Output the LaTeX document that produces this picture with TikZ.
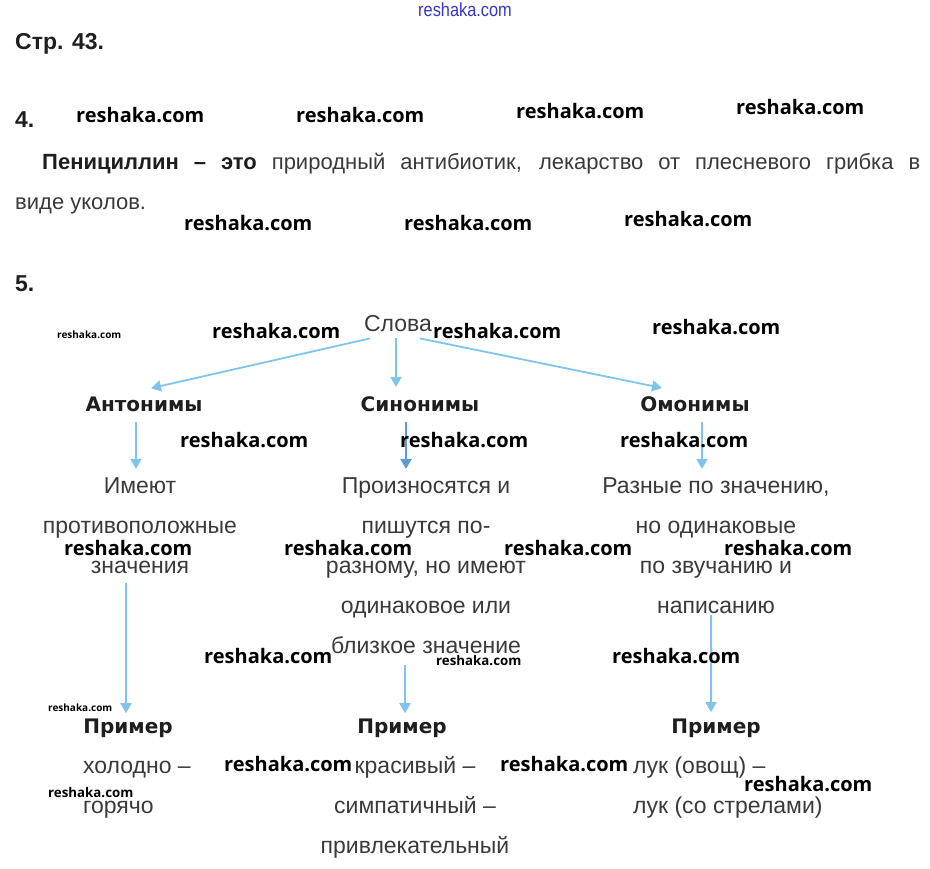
\documentclass[tikz,border=0pt]{standalone}
\usepackage{fontspec}
\setmainfont{Liberation Sans}
\newfontfamily\headfont{DejaVu Sans}
\newfontfamily\wmfont{Open Sans}
\usetikzlibrary{arrows.meta,positioning}

\definecolor{arrowblue}{HTML}{80C4EE}
\definecolor{deepblue}{HTML}{5C9BD8}
\definecolor{textgray}{HTML}{3A3A3A}
\definecolor{headgray}{HTML}{1E1E1E}
\definecolor{siteblue}{HTML}{3636C8}

\tikzset{
  body/.style={font=\fontsize{23}{40}\selectfont, text=textgray, inner sep=0pt, anchor=base},
  para/.style={font=\fontsize{22}{40}\selectfont, text=textgray, inner sep=0pt, anchor=base west},
  head/.style={font=\headfont\bfseries\fontsize{20}{24}\selectfont, text=headgray, inner sep=0pt, anchor=base},
  numtag/.style={font=\bfseries\fontsize{23}{28}\selectfont, text=headgray, inner sep=0pt, anchor=base west},
  wm/.style={inner sep=0pt, anchor=base west, text=black},
  link/.style={draw=arrowblue, line width=1.8pt, -{Triangle[width=11pt,length=10pt]}}
}

\begin{document}
\begin{tikzpicture}[x=1pt, y=-1pt]
  \fill[white] (0,0) rectangle (930,869);
  \useasboundingbox (0,0) rectangle (930,869);

  % heading and task 4
  \node[numtag] (page) at (15,50) {Стр. 43.};
  \node[numtag] (task4) at (15,128) {4.};
  \node[para] (line1) at (42,170)
    {\makebox[878pt][s]{\textbf{\color{headgray}Пенициллин – это} природный антибиотик, лекарство от плесневого грибка в}};
  \node[para] (line2) at (15,210) {виде уколов.};
  \node[numtag] (task5) at (15,292) {5.};

  % scheme (multi-line nodes sit on the baseline of their last line)
  \node[body] (slova) at (398,332) {Слова};

  \node[head] (ant) at (144,411) {Антонимы};
  \node[head] (sin) at (420,411) {Синонимы};
  \node[head] (om) at (695,411) {Омонимы};

  \node[body, align=center] (anttext) at (140,573) {Имеют\\противоположные\\значения};
  \node[body, align=center] (sintext) at (426,653)
    {Произносятся и\\пишутся по-\\разному, но имеют\\одинаковое или\\близкое значение};
  \node[body, align=center] (omtext) at (716,613)
    {Разные по значению,\\но одинаковые\\по звучанию и\\написанию};

  \node[head] (antpr) at (128,733) {Пример};
  \node[head] (sinpr) at (402,733) {Пример};
  \node[head] (ompr) at (716,733) {Пример};

  \node[body, align=left, anchor=base west] (antex) at (83,813) {холодно –\\горячо};
  \node[body, align=center] (sinex) at (415,853) {красивый –\\симпатичный –\\привлекательный};
  \node[body, align=left, anchor=base west] (omex) at (633,813) {лук (овощ) –\\лук (со стрелами)};

  \draw[link] ([xshift=-28pt,yshift=-6pt]slova.south) -- ([xshift=7pt,yshift=8pt]ant.north);
  \draw[link] ([xshift=-2pt,yshift=-6pt]slova.south) -- ([xshift=-24pt,yshift=9pt]sin.north);
  \draw[link] ([xshift=22pt,yshift=-6pt]slova.south) -- ([xshift=-33pt,yshift=8pt]om.north);

  \draw[link] ([xshift=-8pt,yshift=-11pt]ant.south) -- ([xshift=-4pt,yshift=8pt]anttext.north);
  \draw[link, draw=deepblue, line width=2.4pt] ([xshift=-14pt,yshift=-11pt]sin.south) -- ([xshift=-20pt,yshift=8pt]sintext.north);
  \draw[link] ([xshift=7pt,yshift=-11pt]om.south) -- ([xshift=-14pt,yshift=8pt]omtext.north);

  \draw[link] ([xshift=-14pt,yshift=-10pt]anttext.south) -- ([xshift=-2pt,yshift=5pt]antpr.north);
  \draw[link] ([xshift=-21pt,yshift=-12pt]sintext.south) -- ([xshift=3pt,yshift=5pt]sinpr.north);
  \draw[link] ([xshift=-5pt,yshift=-2pt]omtext.south) -- ([xshift=-5pt,yshift=6pt]ompr.north);

  % watermarks
  \node[wm, text=siteblue, anchor=base] (site) at (465,17)
    {\scalebox{0.86}[1]{\fontsize{19}{20}\selectfont reshaka.com}};
  \foreach \wx/\wy/\ws [count=\i] in {76/123/20, 296/123/20, 516/119/20, 736/115/20,
      184/231/20, 404/231/20, 624/227/20,
      212/339/20, 433/339/20, 652/335/20, 57/339/10,
      180/447/20, 400/447/20, 620/447/20,
      64/555/20, 284/555/20, 504/555/20, 724/555/20,
      204/663/20, 612/663/20, 436/665/13.3,
      48/711/10, 224/771/20, 500/771/20, 744/791/20, 48/797/13.3}
    \node[wm, font=\wmfont\bfseries\fontsize{\ws}{\ws}\selectfont] (wm\i) at (\wx,\wy) {reshaka.com};
\end{tikzpicture}
\end{document}
